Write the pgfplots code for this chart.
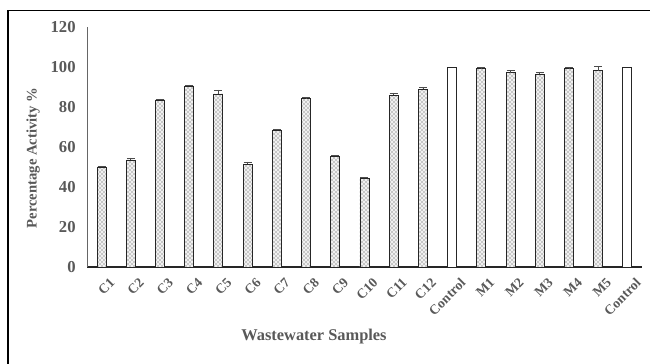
\documentclass[border=0pt]{standalone}
\usepackage{pgfplots}
\pgfplotsset{compat=1.18}
\usepackage{pgfplotstable}
\usepackage{fontspec}
\setmainfont{Liberation Serif}
\usetikzlibrary{patterns}
\definecolor{txt}{HTML}{595959}
\pgfplotstableread{
x y e
0 50 0.5
1 53.5 1
2 83.5 0.5
3 90.5 0.5
4 86.5 2
5 51.3 1.2
6 68.3 0.5
7 84.3 0.4
8 55.3 0.6
9 44.3 0.6
10 86 1
11 89 1
13 99.3 0.4
14 97.2 1
15 96.5 1
16 99.3 0.4
17 98.2 2
}\samples
\pgfplotstableread{
x y
12 100
18 100
}\controls
\begin{document}
\begin{tikzpicture}
\useasboundingbox (-65.25pt,-72.75pt) rectangle (422.25pt,200.25pt);
\draw[line width=1.1pt] (-59.25pt,-80pt) -- (-59.25pt,192.375pt) -- (430pt,192.375pt);
\begin{axis}[
  at={(0,0)}, anchor=south west,
  scale only axis, width=416.25pt, height=180pt,
  ybar, bar width=6.75pt, bar shift=0pt,
  xmin=-0.5, xmax=18.5, ymin=0, ymax=120,
  axis x line*=bottom, axis y line*=left,
  x axis line style={black!85, line width=0.8pt, -},
  y axis line style={black!60, line width=0.6pt, -},
  ytick={0,20,...,120},
  xtick={0,...,18},
  xticklabels={C1,C2,C3,C4,C5,C6,C7,C8,C9,C10,C11,C12,Control,M1,M2,M3,M4,M5,Control},
  major tick length=0pt,
  /pgf/number format/assume math mode=true,
  yticklabel style={font=\bfseries\fontsize{12.5}{14}\selectfont, text=txt, xshift=-5pt},
  xticklabel style={font=\bfseries\fontsize{10.25}{12}\selectfont, text=txt, rotate=45, anchor=north east, yshift=-6pt, xshift=2pt},
  xlabel={Wastewater Samples},
  ylabel={Percentage Activity \%},
  xlabel style={font=\bfseries\fontsize{12.3}{14}\selectfont, text=txt, at={(axis description cs:0.409,-0.29)}, anchor=center},
  ylabel style={font=\bfseries\fontsize{11}{13}\selectfont, text=txt, at={(axis description cs:-0.097,0.454)}, anchor=center, rotate=0},
]
\addplot[draw=black!85, line width=0.7pt, fill=gray!12, postaction={pattern=crosshatch dots, pattern color=black!75},
  error bars/.cd, y dir=plus, y explicit, error bar style={black!70, line width=0.5pt}, error mark options={black!70, line width=0.5pt, mark size=3pt, rotate=90}]
  table[x=x, y=y, y error=e] {\samples};
\addplot[draw=black!85, line width=0.7pt, fill=white] table[x=x, y=y] {\controls};
\end{axis}
\end{tikzpicture}
\end{document}
